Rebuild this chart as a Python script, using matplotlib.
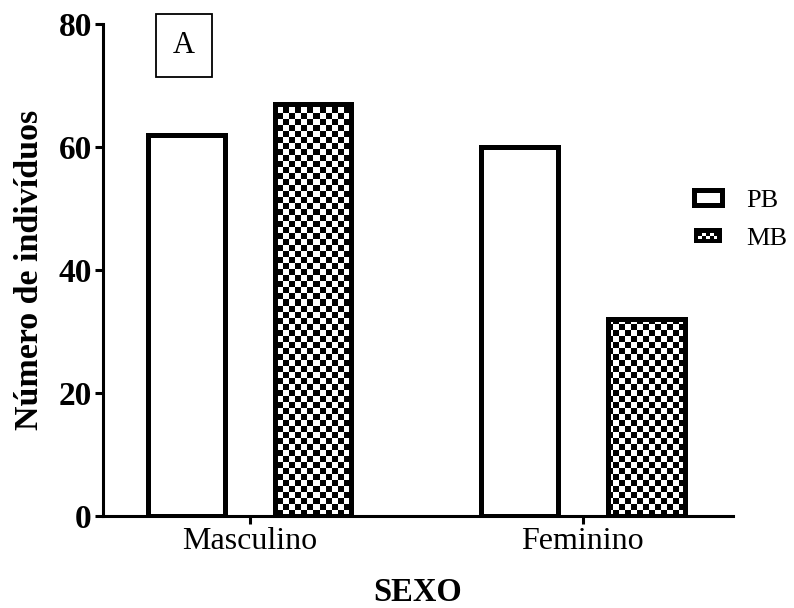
import matplotlib.pyplot as plt
import numpy as np
from matplotlib.patches import Patch, Rectangle
from matplotlib.legend_handler import HandlerPatch

# dados
sexo = ['Masculino', 'Feminino']
pb = [62, 60]
mb = [67, 32]

plt.rcParams['font.family'] = ['Liberation Serif', 'DejaVu Serif']

fig = plt.figure(figsize=(7.94, 6.08), dpi=100)
ax = fig.add_axes([0.1297, 0.1513, 0.7933, 0.8092])

x = np.arange(len(sexo))
larg = 0.23
desl = 0.19
lw_barra = 3.6

barras_pb = ax.bar(x - desl, pb, larg, facecolor='white', edgecolor='black',
                   linewidth=lw_barra, zorder=3)
barras_mb = ax.bar(x + desl, mb, larg, facecolor='none', edgecolor='black',
                   linewidth=lw_barra, zorder=3)

# padrão xadrez dentro das barras MB (quadrados de ~6 px)
nx, ny = 105, 82
xadrez = (np.add.outer(np.arange(ny), np.arange(nx)) % 2).astype(float)
for b in barras_mb:
    im = ax.imshow(xadrez, cmap='gray', extent=[0, 1, 0, 1], transform=ax.transAxes,
                   interpolation='nearest', aspect='auto', zorder=2)
    im.set_clip_path(b)

ax.set_xlim(-0.44, 1.45)
ax.set_ylim(0, 80)
ax.set_yticks([0, 20, 40, 60, 80])
ax.set_xticks(x)
ax.set_xticklabels(sexo, fontsize=23)
for t in ax.get_yticklabels():
    t.set_fontweight('bold')
    t.set_fontsize(24)

for s in ['top', 'right']:
    ax.spines[s].set_visible(False)
for s in ['left', 'bottom']:
    ax.spines[s].set_linewidth(2.2)
ax.tick_params(width=2.2, length=6, pad=2)

ax.set_ylabel('Número de indivíduos', fontsize=24.5, fontweight='bold', labelpad=10)
ax.set_xlabel('SEXO', fontsize=23.5, fontweight='bold', labelpad=15)


# símbolo da legenda para MB: caixa preta com quadradinhos brancos
class HandlerXadrez(HandlerPatch):
    def create_artists(self, legend, orig_handle, xdescent, ydescent,
                       width, height, fontsize, trans):
        arts = [Rectangle((-xdescent, -ydescent), width, height, facecolor='black',
                          edgecolor='black', linewidth=0, transform=trans)]
        m = 3.0
        n = 5
        s = (width - 2 * m) / n
        rows = 2
        sy = (height - 2 * m) / rows
        for i in range(n):
            for j in range(rows):
                if (i + j) % 2 == 0:
                    arts.append(Rectangle((-xdescent + m + i * s, -ydescent + m + j * sy),
                                          s, sy, facecolor='white', linewidth=0,
                                          transform=trans))
        return arts


h_pb = Patch(facecolor='white', edgecolor='black', linewidth=lw_barra)
h_mb = Patch(facecolor='black', edgecolor='black')
leg = ax.legend([h_pb, h_mb], ['PB', 'MB'], loc='center left',
                bbox_to_anchor=(0.844, 0.638), bbox_transform=fig.transFigure,
                frameon=False, fontsize=19, handlelength=1.05, handleheight=0.5,
                handletextpad=0.95, labelspacing=0.62,
                handler_map={h_mb: HandlerXadrez()})

# rótulo do painel
fig.text(0.232, 0.925, 'A', fontsize=22, ha='center', va='center',
         bbox=dict(boxstyle='square,pad=0.55', facecolor='white', edgecolor='black',
                   linewidth=1.3))

fig.savefig('out.png', dpi=100)
